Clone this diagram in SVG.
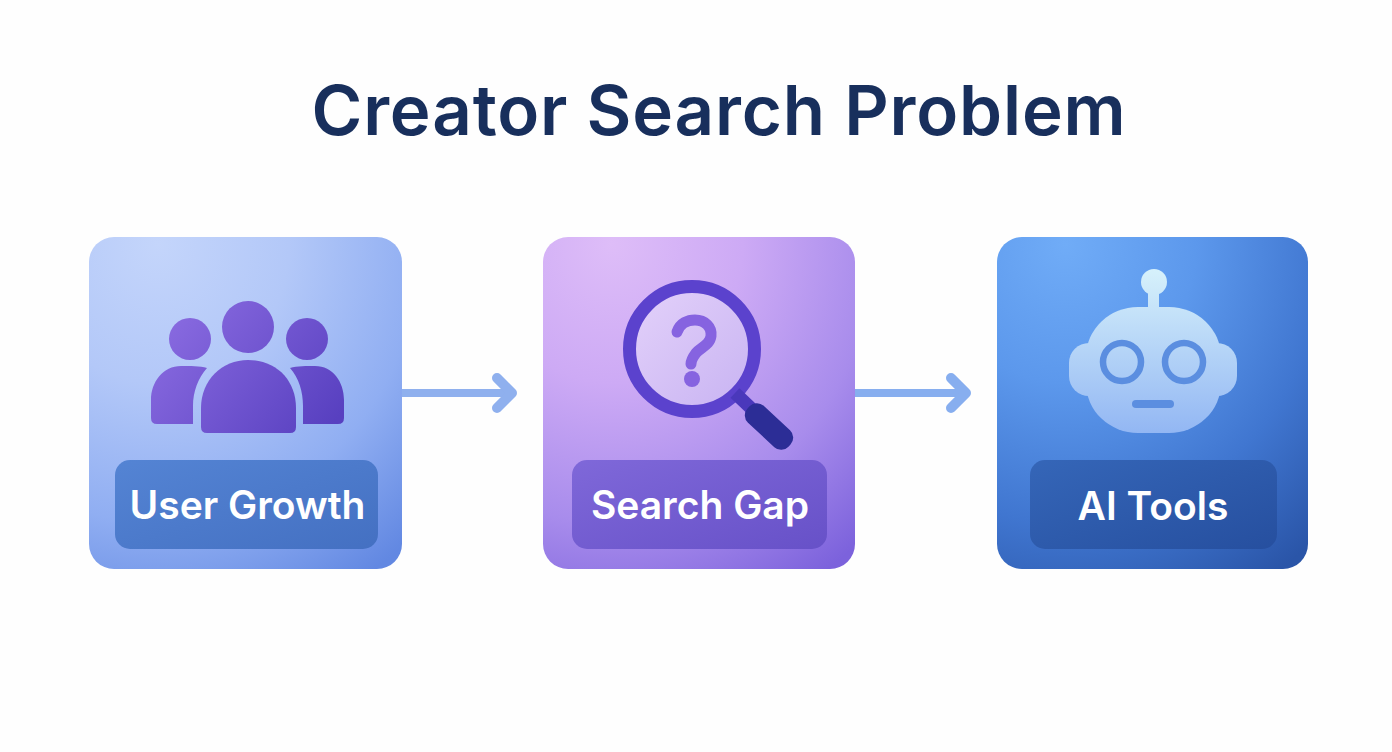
<svg xmlns="http://www.w3.org/2000/svg" width="1392" height="752" viewBox="0 0 1392 752">
<style>
.title{font-family:Inter,"Liberation Sans",sans-serif;font-weight:600;font-size:69px;letter-spacing:.85px;fill:#182f5c;text-anchor:middle}
.lbl{font-family:Inter,"Liberation Sans",sans-serif;font-weight:600;font-size:39px;fill:#fff;text-anchor:middle}
.arrow{fill:none;stroke-linecap:round;stroke-linejoin:round}
</style>
<defs>
<radialGradient id="c1" cx=".22" cy=".02" r="1.2"><stop offset="0" stop-color="#c4d5fb"/><stop offset=".35" stop-color="#b3c8f8"/><stop offset=".7" stop-color="#90aef2"/><stop offset="1" stop-color="#6288e2"/></radialGradient>
<radialGradient id="c2" cx=".22" cy=".02" r="1.2"><stop offset="0" stop-color="#debdf8"/><stop offset=".35" stop-color="#cdaaf5"/><stop offset=".7" stop-color="#a88cec"/><stop offset="1" stop-color="#7c62dc"/></radialGradient>
<radialGradient id="c3" cx=".22" cy=".02" r="1.2"><stop offset="0" stop-color="#70acf7"/><stop offset=".35" stop-color="#5c98ec"/><stop offset=".7" stop-color="#4076d0"/><stop offset="1" stop-color="#2a55a8"/></radialGradient>
<linearGradient id="l1" x1="0" y1="0" x2="1" y2="1"><stop offset="0" stop-color="#5484d4"/><stop offset="1" stop-color="#4470c2"/></linearGradient>
<linearGradient id="l2" x1="0" y1="0" x2="1" y2="1"><stop offset="0" stop-color="#7f68d9"/><stop offset="1" stop-color="#6751c8"/></linearGradient>
<linearGradient id="l3" x1="0" y1="0" x2="1" y2="1"><stop offset="0" stop-color="#3566b8"/><stop offset="1" stop-color="#264f9f"/></linearGradient>
<linearGradient id="p" gradientUnits="userSpaceOnUse" x1="160" y1="310" x2="320" y2="440"><stop offset="0" stop-color="#8c6de2"/><stop offset="1" stop-color="#5840c0"/></linearGradient>
<linearGradient id="lens" x1="0" y1="0" x2="1" y2="1"><stop offset="0" stop-color="#e4d2fa"/><stop offset="1" stop-color="#c7b2f2"/></linearGradient>
<linearGradient id="rb" gradientUnits="userSpaceOnUse" x1="1153" y1="270" x2="1153" y2="435"><stop offset="0" stop-color="#d6f1fb"/><stop offset="1" stop-color="#92b6f3"/></linearGradient>
</defs>
<rect width="1392" height="752" fill="#fefefe"/>
<text class="title" x="719" y="135">Creator Search Problem</text>

<g id="connectors">
<g class="arrow" stroke="#8fb0ee"><path d="M401 393H512" stroke-width="8"/><path d="M497 378L512 393L497 408" stroke-width="10"/></g>
<g class="arrow" stroke="#87aeef"><path d="M855 393H966" stroke-width="8"/><path d="M951 378L966 393L951 408" stroke-width="10"/></g>
</g>

<g id="node-user-growth">
<rect x="89" y="237" width="313" height="332" rx="25" fill="url(#c1)"/>
<rect x="115" y="460" width="263" height="89" rx="15" fill="url(#l1)"/>
<g fill="url(#p)">
<circle cx="248" cy="327" r="26"/><circle cx="190" cy="339" r="21"/><circle cx="307" cy="339" r="21"/>
<path d="M201 408V427Q201 433 207 433H290Q296 433 296 427V408C296 380 276 360 248 360C222 360 201 380 201 408Z"/>
<path d="M207 368C200 366 190 366 181 366C163 366 151 382 151 400V418Q151 424 157 424H193V406C193 392 198 378 207 368Z"/>
<path d="M290 368C297 366 307 366 315 366C333 366 344 382 344 400V418Q344 424 338 424H303V406C303 392 299 378 290 368Z"/>
</g>
<text class="lbl" x="247.500" y="519">User Growth</text>
</g>

<g id="node-search-gap">
<rect x="543" y="237" width="312" height="332" rx="25" fill="url(#c2)"/>
<rect x="572" y="460" width="255" height="89" rx="15" fill="url(#l2)"/>
<circle cx="692" cy="349" r="62.500" fill="url(#lens)" stroke="#5b42cd" stroke-width="13"/>
<path d="M735 393L756 413" stroke="#4a38bb" stroke-width="13" fill="none"/>
<rect x="741" y="415" width="56" height="23" rx="10" transform="rotate(43 769 426.500)" fill="#2c2d96"/>
<path d="M677 332C680 323 688 320 695 320C705 320 712 327 711 336C710 345 701 347 696 353C693 357 691 360 691 364" fill="none" stroke="#8663e0" stroke-width="11" stroke-linecap="round"/>
<circle cx="692" cy="379" r="8" fill="#8663e0"/>
<text class="lbl" x="700" y="519">Search Gap</text>
</g>

<g id="node-ai-tools">
<rect x="997" y="237" width="311" height="332" rx="25" fill="url(#c3)"/>
<rect x="1030" y="460" width="247" height="89" rx="15" fill="url(#l3)"/>
<g fill="url(#rb)">
<circle cx="1154" cy="282" r="13"/><rect x="1148" y="290" width="11" height="22"/>
<rect x="1069" y="343" width="168" height="53" rx="20"/>
<rect x="1086" y="307" width="135" height="126" rx="52" ry="50"/>
</g>
<g fill="none" stroke="#5b8ee0" stroke-width="6.500"><circle cx="1122" cy="362" r="19"/><circle cx="1184" cy="362" r="19"/></g>
<path d="M1136 404H1170" stroke="#5b8ee0" stroke-width="8" stroke-linecap="round"/>
<text class="lbl" x="1153" y="520">AI Tools</text>
</g>
</svg>
